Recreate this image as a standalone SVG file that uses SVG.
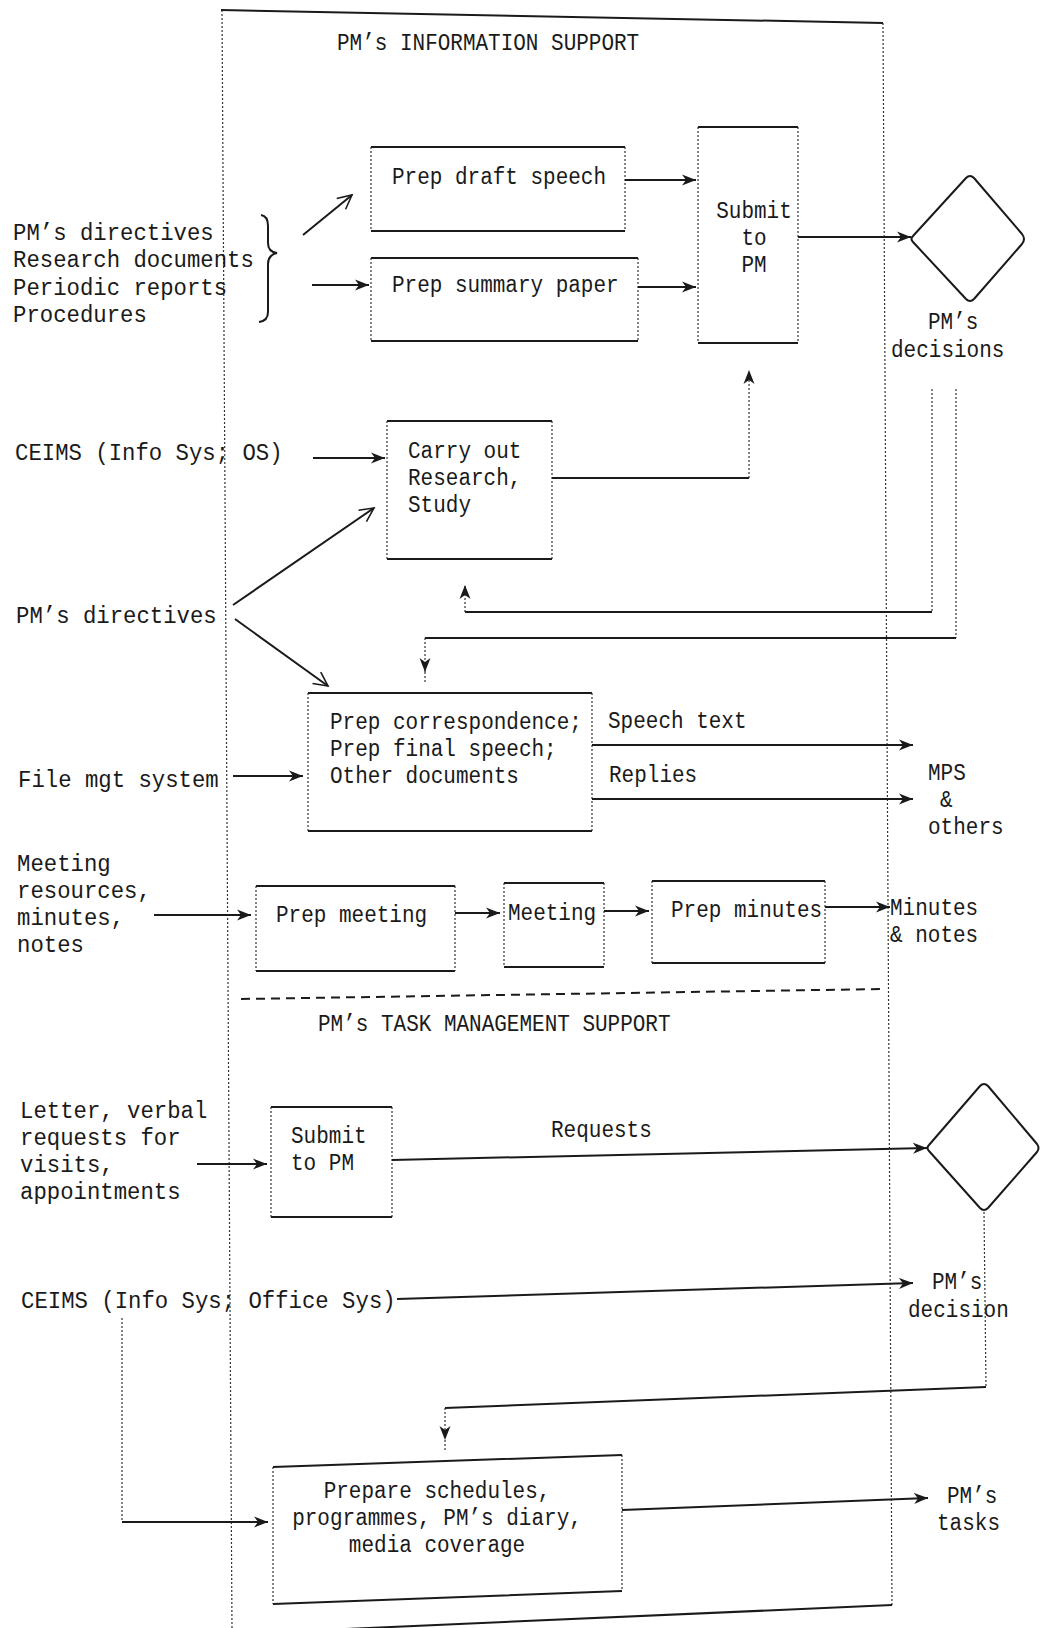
<svg xmlns="http://www.w3.org/2000/svg" width="1042" height="1628" viewBox="0 0 1042 1628">
<defs>
<style>
.ln{stroke:#1a1a1a;stroke-width:2;fill:none}
.dt{stroke:#333;stroke-width:1.2;stroke-dasharray:2 2;fill:none}
.dash{stroke:#1a1a1a;stroke-width:2;stroke-dasharray:9 6;fill:none}
.t{font-family:"Liberation Mono","DejaVu Sans Mono",monospace;font-size:22.3px;fill:#1a1a1a}
.tb{font-size:21px}
.mid{text-anchor:middle}
.dia{stroke:#1a1a1a;stroke-width:2;fill:none;stroke-linejoin:round}
</style>
<marker id="ah" markerUnits="userSpaceOnUse" markerWidth="15" markerHeight="13" viewBox="0 0 15 13" refX="14" refY="6.5" orient="auto"><path d="M0,1 L14,6.5 L0,12 L4,6.5 Z" fill="#1a1a1a"/></marker>
<marker id="av" markerUnits="userSpaceOnUse" markerWidth="18" markerHeight="16" viewBox="0 0 18 16" refX="16" refY="8" orient="auto"><path d="M2,1 L16,8 L2,15" fill="none" stroke="#1a1a1a" stroke-width="1.6"/></marker>
</defs>
<rect width="1042" height="1628" fill="#fff"/>

<g id="frame">
<path class="ln" d="M221,10 L883,23"/>
<path class="dt" d="M222,10 L232,1628"/>
<path class="dt" d="M883,23 L892,1605"/>
<path class="ln" d="M232,1634 L892,1605"/>
<path class="dash" d="M241,999 L883,989"/>
<text class="t tb" transform="translate(337,50) scale(1,1.15)">PM’s INFORMATION SUPPORT</text>
<text class="t tb" transform="translate(318,1031) scale(1,1.15)">PM’s TASK MANAGEMENT SUPPORT</text>
</g>

<g id="inputs-docs">
<text class="t" transform="translate(13,240) scale(1,1.05)">PM’s directives</text>
<text class="t" transform="translate(13,267) scale(1,1.05)">Research documents</text>
<text class="t" transform="translate(13,295) scale(1,1.05)">Periodic reports</text>
<text class="t" transform="translate(13,322) scale(1,1.05)">Procedures</text>
<path class="ln" stroke-width="1.6" d="M261,215 Q268,216 268,226 L268,243 Q268,252 277,253 Q268,255 268,264 L268,312 Q268,321 259,322"/>
</g>
<g id="input-ceims-os"><text class="t" transform="translate(15,460) scale(1,1.1)">CEIMS (Info Sys; OS)</text></g>
<g id="input-directives"><text class="t" transform="translate(16,623) scale(1,1.1)">PM’s directives</text></g>
<g id="input-file"><text class="t" transform="translate(18,787) scale(1,1.1)">File mgt system</text></g>
<g id="input-meeting">
<text class="t" transform="translate(17,871) scale(1,1.05)">Meeting</text>
<text class="t" transform="translate(17,898) scale(1,1.05)">resources,</text>
<text class="t" transform="translate(17,925) scale(1,1.05)">minutes,</text>
<text class="t" transform="translate(17,952) scale(1,1.05)">notes</text>
</g>
<g id="input-letter">
<text class="t" transform="translate(20,1118) scale(1,1.05)">Letter, verbal</text>
<text class="t" transform="translate(20,1145) scale(1,1.05)">requests for</text>
<text class="t" transform="translate(20,1172) scale(1,1.05)">visits,</text>
<text class="t" transform="translate(20,1199) scale(1,1.05)">appointments</text>
</g>
<g id="input-ceims-office"><text class="t" transform="translate(21,1308) scale(1,1.1)">CEIMS (Info Sys; Office Sys)</text></g>

<g id="draft-speech">
<path class="ln" d="M371,147 H625 M371,231 H625"/><path class="dt" d="M371,147 V231 M625,147 V231"/>
<text class="t tb" transform="translate(392,184) scale(1,1.15)">Prep draft speech</text>
</g>
<g id="summary-paper">
<path class="ln" d="M371,258 H638 M371,341 H638"/><path class="dt" d="M371,258 V341 M638,258 V341"/>
<text class="t tb" transform="translate(392,292) scale(1,1.15)">Prep summary paper</text>
</g>
<g id="submit-pm">
<path class="ln" d="M698,127 H798 M698,343 H798"/><path class="dt" d="M698,127 V343 M798,127 V343"/>
<text class="t tb mid" transform="translate(754,218) scale(1,1.1)">Submit</text>
<text class="t tb mid" transform="translate(754,245) scale(1,1.1)">to</text>
<text class="t tb mid" transform="translate(754,272) scale(1,1.1)">PM</text>
</g>
<g id="pm-decisions">
<path class="dia" d="M913,236 L966,178 Q970,174 974,178 L1022,234 Q1026,239 1022,244 L974,299 Q970,303 966,299 L913,242 Q910,239 913,236 Z"/>
<text class="t tb" transform="translate(928,329) scale(1,1.1)">PM’s</text>
<text class="t tb" transform="translate(891,357) scale(1,1.1)">decisions</text>
</g>
<g id="carry-out">
<path class="ln" d="M387,421 H552 M387,559 H552"/><path class="dt" d="M387,421 V559 M552,421 V559"/>
<text class="t tb" transform="translate(408,458) scale(1,1.1)">Carry out</text>
<text class="t tb" transform="translate(408,485) scale(1,1.1)">Research,</text>
<text class="t tb" transform="translate(408,512) scale(1,1.1)">Study</text>
</g>
<g id="prep-correspondence">
<path class="ln" d="M308,693 H592 M308,831 H592"/><path class="dt" d="M308,693 V831 M592,693 V831"/>
<text class="t tb" transform="translate(330,729) scale(1,1.1)">Prep correspondence;</text>
<text class="t tb" transform="translate(330,756) scale(1,1.1)">Prep final speech;</text>
<text class="t tb" transform="translate(330,783) scale(1,1.1)">Other documents</text>
</g>
<g id="mps-others">
<text class="t tb" transform="translate(928,780) scale(1,1.1)">MPS</text>
<text class="t tb" transform="translate(940,807) scale(1,1.1)">&amp;</text>
<text class="t tb" transform="translate(928,834) scale(1,1.1)">others</text>
</g>
<g id="prep-meeting">
<path class="ln" d="M256,886 H455 M256,971 H455"/><path class="dt" d="M256,886 V971 M455,886 V971"/>
<text class="t tb" transform="translate(276,922) scale(1,1.15)">Prep meeting</text>
</g>
<g id="meeting">
<path class="ln" d="M504,883 H604 M504,967 H604"/><path class="dt" d="M504,883 V967 M604,883 V967"/>
<text class="t tb" transform="translate(508,920) scale(1,1.15)">Meeting</text>
</g>
<g id="prep-minutes">
<path class="ln" d="M652,881 H825 M652,963 H825"/><path class="dt" d="M652,881 V963 M825,881 V963"/>
<text class="t tb" transform="translate(671,917) scale(1,1.15)">Prep minutes</text>
</g>
<g id="minutes-notes">
<text class="t tb" transform="translate(890,915) scale(1,1.1)">Minutes</text>
<text class="t tb" transform="translate(890,942) scale(1,1.1)">&amp; notes</text>
</g>
<g id="submit-pm-task">
<path class="ln" d="M271,1107 H392 M271,1217 H392"/><path class="dt" d="M271,1107 V1217 M392,1107 V1217"/>
<text class="t tb" transform="translate(291,1143) scale(1,1.1)">Submit</text>
<text class="t tb" transform="translate(291,1170) scale(1,1.1)">to PM</text>
</g>
<g id="pm-decision-task">
<path class="dia" d="M929,1145 L980,1086 Q984,1082 988,1086 L1037,1144 Q1040,1148 1037,1152 L988,1208 Q984,1212 980,1208 L929,1151 Q926,1148 929,1145 Z"/>
<text class="t tb" transform="translate(932,1289) scale(1,1.1)">PM’s</text>
<text class="t tb" transform="translate(908,1317) scale(1,1.1)">decision</text>
</g>
<g id="prepare-schedules">
<path class="ln" d="M273,1467 L622,1455 M273,1604 L622,1591"/><path class="dt" d="M273,1467 V1604 M622,1455 V1591"/>
<text class="t tb mid" transform="translate(437,1498) scale(1,1.1)">Prepare schedules,</text>
<text class="t tb mid" transform="translate(437,1525) scale(1,1.1)">programmes, PM’s diary,</text>
<text class="t tb mid" transform="translate(437,1552) scale(1,1.1)">media coverage</text>
</g>
<g id="pm-tasks">
<text class="t tb" transform="translate(947,1503) scale(1,1.1)">PM’s</text>
<text class="t tb" transform="translate(937,1530) scale(1,1.1)">tasks</text>
</g>

<g id="connectors">
<path class="ln" stroke-width="1.6" d="M303,235 L352,195" marker-end="url(#av)"/>
<path class="ln" d="M312,285 L369,285" marker-end="url(#ah)"/>
<path class="ln" d="M625,180 L696,180" marker-end="url(#ah)"/>
<path class="ln" d="M638,287 L696,287" marker-end="url(#ah)"/>
<path class="ln" d="M798,237 L911,237" marker-end="url(#ah)"/>
<path class="ln" d="M313,458 L385,458" marker-end="url(#ah)"/>
<path class="ln" d="M552,478 L749,478"/>
<path class="dt" d="M749,478 L749,370" marker-end="url(#ah)"/>
<path class="dt" d="M932,389 L932,612"/>
<path class="ln" d="M932,612 L465,612"/>
<path class="dt" d="M465,612 L465,585" marker-end="url(#ah)"/>
<path class="dt" d="M956,389 L956,638"/>
<path class="ln" d="M956,638 L425,638"/>
<path class="dt" d="M425,638 L425,672" marker-end="url(#ah)"/>
<path class="dt" d="M425,672 L425,683"/>
<path class="ln" stroke-width="1.6" d="M233,605 L374,508" marker-end="url(#av)"/>
<path class="ln" stroke-width="1.6" d="M235,619 L328,686" marker-end="url(#av)"/>
<path class="ln" d="M233,776 L303,776" marker-end="url(#ah)"/>
<path class="ln" d="M592,745 L913,745" marker-end="url(#ah)"/>
<text class="t tb" transform="translate(608,728) scale(1,1.1)">Speech text</text>
<path class="ln" d="M592,799 L913,799" marker-end="url(#ah)"/>
<text class="t tb" transform="translate(609,782) scale(1,1.1)">Replies</text>
<path class="ln" d="M154,915 L251,915" marker-end="url(#ah)"/>
<path class="ln" d="M455,913 L500,913" marker-end="url(#ah)"/>
<path class="ln" d="M604,911 L649,911" marker-end="url(#ah)"/>
<path class="ln" d="M825,907 L890,907" marker-end="url(#ah)"/>
<path class="ln" d="M197,1164 L267,1164" marker-end="url(#ah)"/>
<path class="ln" d="M392,1160 L927,1148" marker-end="url(#ah)"/>
<text class="t tb" transform="translate(551,1137) scale(1,1.1)">Requests</text>
<path class="dt" d="M984,1212 L986,1387"/>
<path class="ln" d="M986,1387 L445,1408"/>
<path class="dt" d="M445,1408 L445,1440" marker-end="url(#ah)"/>
<path class="dt" d="M445,1440 L445,1450"/>
<path class="ln" d="M397,1299 L913,1283" marker-end="url(#ah)"/>
<path class="dt" d="M122,1318 L122,1522"/>
<path class="ln" d="M122,1522 L268,1522" marker-end="url(#ah)"/>
<path class="ln" d="M622,1510 L928,1498" marker-end="url(#ah)"/>
</g>
</svg>
